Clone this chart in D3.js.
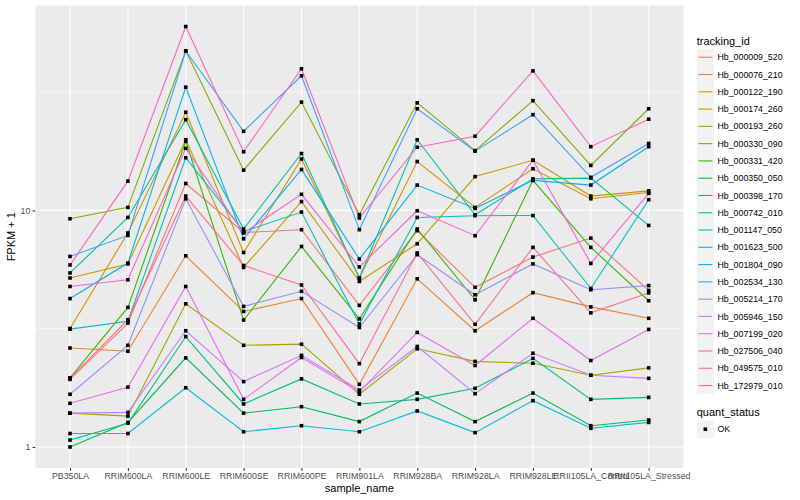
<!DOCTYPE html>
<html>
<head>
<meta charset="utf-8">
<script src="https://cdn.jsdelivr.net/npm/d3@7"></script>
<style>
  body { margin: 0; background: #fff; }
  svg { display: block; font-family: "Liberation Sans", Arial, sans-serif; }
</style>
</head>
<body>
<svg id="chart" width="800" height="500"></svg>
<script>
// x categories
const sampleNames = ["PB350LA", "RRIM600LA", "RRIM600LE", "RRIM600SE", "RRIM600PE", "RRIM901LA",
  "RRIM928BA", "RRIM928LA", "RRIM928LE", "RRII105LA_Control", "RRII105LA_Stressed"];

const trackingIds = ["Hb_000009_520", "Hb_000076_210", "Hb_000122_190", "Hb_000174_260", "Hb_000193_260",
  "Hb_000330_090", "Hb_000331_420", "Hb_000350_050", "Hb_000398_170", "Hb_000742_010",
  "Hb_001147_050", "Hb_001623_500", "Hb_001804_090", "Hb_002534_130", "Hb_005214_170",
  "Hb_005946_150", "Hb_007199_020", "Hb_027506_040", "Hb_049575_010", "Hb_172979_010"];

// ggplot default hue palette for 20 groups
const hueColors = ["#F8766D", "#EA8331", "#D89000", "#C09B00", "#A3A500", "#7CAE00", "#39B600", "#00BB4E",
  "#00BF7D", "#00C1A3", "#00BFC4", "#00BAE0", "#00B0F6", "#35A2FF", "#9590FF", "#C77CFF",
  "#E76BF3", "#FA62DB", "#FF62BC", "#FF6C91"];

// FPKM + 1, one value per sample
const Hb_000009_520 = [1.93, 3.34, 13.0, 8.07, 8.29, 3.97, 8.21, 4.73, 6.35, 7.64, 4.59];
const Hb_000076_210 = [2.62, 2.54, 6.43, 3.74, 4.24, 1.84, 5.14, 3.10, 4.49, 3.91, 3.50];
const Hb_000122_190 = [3.17, 8.03, 26.0, 6.64, 16.5, 5.18, 16.1, 10.3, 15.0, 11.2, 11.9];
const Hb_000174_260 = [5.18, 5.94, 19.9, 5.74, 10.9, 5.01, 7.23, 13.9, 16.3, 11.5, 12.1];
const Hb_000193_260 = [1.39, 1.35, 4.03, 2.69, 2.72, 1.67, 2.60, 2.30, 2.26, 2.01, 2.16];
const Hb_000330_090 = [9.22, 10.3, 47.3, 14.8, 28.7, 9.59, 28.5, 17.9, 29.1, 15.5, 26.9];
const Hb_000331_420 = [1.96, 3.89, 19.6, 3.44, 7.04, 3.48, 8.35, 4.19, 13.4, 6.98, 4.15];
const Hb_000350_050 = [1.00, 1.27, 2.38, 1.39, 1.48, 1.28, 1.69, 1.28, 1.69, 1.23, 1.30];
const Hb_000398_170 = [1.07, 1.26, 2.93, 1.52, 1.94, 1.52, 1.59, 1.77, 2.37, 1.59, 1.62];
const Hb_000742_010 = [5.44, 9.34, 24.2, 8.35, 17.4, 5.18, 19.9, 9.59, 13.6, 13.7, 8.64];
const Hb_001147_050 = [3.15, 3.40, 16.7, 8.15, 9.84, 3.31, 9.34, 9.50, 9.52, 4.68, 11.1];
const Hb_001623_500 = [1.14, 1.14, 1.78, 1.16, 1.23, 1.16, 1.42, 1.15, 1.57, 1.20, 1.27];
const Hb_001804_090 = [4.24, 5.99, 33.2, 7.59, 14.9, 6.23, 12.8, 10.2, 13.4, 12.8, 18.6];
const Hb_002534_130 = [6.39, 7.84, 47.2, 21.6, 37.1, 8.29, 26.9, 17.8, 25.4, 13.8, 19.2];
const Hb_005214_170 = [1.67, 2.69, 11.2, 3.93, 4.55, 3.20, 6.50, 4.40, 5.94, 4.62, 4.81];
const Hb_005946_150 = [1.39, 1.40, 3.10, 1.89, 2.44, 1.74, 2.66, 1.68, 2.49, 2.01, 1.95];
const Hb_007199_020 = [1.53, 1.79, 4.77, 1.59, 2.39, 1.71, 3.05, 2.21, 3.50, 2.32, 3.14];
const Hb_027506_040 = [4.77, 5.09, 18.3, 8.03, 11.7, 5.77, 9.97, 7.82, 16.3, 5.97, 11.8];
const Hb_049575_010 = [5.88, 13.3, 59.9, 17.7, 39.7, 9.29, 18.5, 20.6, 38.9, 18.6, 24.3];
const Hb_172979_010 = [1.95, 3.45, 11.5, 5.85, 4.84, 2.25, 6.61, 3.30, 6.98, 3.69, 4.48];

const seriesValues = [Hb_000009_520, Hb_000076_210, Hb_000122_190, Hb_000174_260, Hb_000193_260,
  Hb_000330_090, Hb_000331_420, Hb_000350_050, Hb_000398_170, Hb_000742_010,
  Hb_001147_050, Hb_001623_500, Hb_001804_090, Hb_002534_130, Hb_005214_170,
  Hb_005946_150, Hb_007199_020, Hb_027506_040, Hb_049575_010, Hb_172979_010];

const yBreaks = [1, 10];
const yMinorBreaks = [3.162, 31.62];
const quantStatus = ["OK"];

// panel box
const panel = { left: 35.3, right: 683.4, top: 5.5, bottom: 468 };

const svg = d3.select('#chart');

const x = d3.scalePoint()
  .domain(sampleNames)
  .range([panel.left, panel.right])
  .padding(0.6);

// log scale with ggplot's 5% expansion
const logExt = d3.extent(seriesValues.flat()).map(Math.log10);
const pad = (logExt[1] - logExt[0]) * 0.05;
const y = d3.scaleLog()
  .domain([Math.pow(10, logExt[0] - pad), Math.pow(10, logExt[1] + pad)])
  .range([panel.bottom, panel.top]);

const color = d3.scaleOrdinal().domain(trackingIds).range(hueColors);

// background + grid
svg.append('rect')
  .attr('x', panel.left).attr('y', panel.top)
  .attr('width', panel.right - panel.left).attr('height', panel.bottom - panel.top)
  .attr('fill', '#EBEBEB');

const grid = svg.append('g').attr('stroke', '#fff').attr('fill', 'none');
grid.selectAll('.minor').data(yMinorBreaks).enter().append('line')
  .attr('x1', panel.left).attr('x2', panel.right)
  .attr('y1', d => y(d)).attr('y2', d => y(d))
  .attr('stroke-width', 0.55);
grid.selectAll('.major').data(yBreaks).enter().append('line')
  .attr('x1', panel.left).attr('x2', panel.right)
  .attr('y1', d => y(d)).attr('y2', d => y(d))
  .attr('stroke-width', 1.1);
grid.selectAll('.vmajor').data(sampleNames).enter().append('line')
  .attr('x1', d => x(d)).attr('x2', d => x(d))
  .attr('y1', panel.top).attr('y2', panel.bottom)
  .attr('stroke-width', 1.1);

// lines, one per tracking id
const line = d3.line()
  .x((d, i) => x(sampleNames[i]))
  .y(d => y(d));

svg.append('g').selectAll('path')
  .data(seriesValues)
  .enter()
  .append('path')
  .attr('d', d => line(d))
  .attr('fill', 'none')
  .attr('stroke', (d, i) => color(trackingIds[i]))
  .attr('stroke-width', 1.1);

// points
const pts = [];
seriesValues.forEach(vals => vals.forEach((v, i) => pts.push({ s: sampleNames[i], v: v })));
svg.append('g').selectAll('rect')
  .data(pts)
  .enter()
  .append('rect')
  .attr('x', d => x(d.s) - 1.8)
  .attr('y', d => y(d.v) - 1.8)
  .attr('width', 3.6)
  .attr('height', 3.6)
  .attr('fill', '#000');

// axes
const xAxis = svg.append('g')
  .attr('transform', `translate(0,${panel.bottom})`)
  .call(d3.axisBottom(x).tickSize(2.75).tickPadding(2.2));
const yAxis = svg.append('g')
  .attr('transform', `translate(${panel.left},0)`)
  .call(d3.axisLeft(y).tickValues(yBreaks).tickFormat(d3.format('d')).tickSize(2.75).tickPadding(2.2));

[xAxis, yAxis].forEach(g => {
  g.select('.domain').remove();
  g.selectAll('.tick line').attr('stroke', '#333333').attr('stroke-width', 1.1);
  g.selectAll('.tick text')
    .attr('fill', '#4D4D4D')
    .style('font-size', '8.8px')
    .style('font-family', '"Liberation Sans", Arial, sans-serif');
});

// axis titles
svg.append('text')
  .attr('x', (panel.left + panel.right) / 2).attr('y', 492)
  .attr('text-anchor', 'middle')
  .style('font-size', '11px')
  .text('sample_name');

svg.append('text')
  .attr('transform', `translate(15,${(panel.top + panel.bottom) / 2}) rotate(-90)`)
  .attr('text-anchor', 'middle')
  .style('font-size', '11px')
  .text('FPKM + 1');

// legend: tracking_id
const legX = 696.7, keySize = 17.28, keyTop = 48.6;
const leg = svg.append('g');
leg.append('text')
  .attr('x', legX).attr('y', 44.5)
  .style('font-size', '11px')
  .text('tracking_id');

const rows = leg.selectAll('.row')
  .data(trackingIds)
  .enter()
  .append('g')
  .attr('transform', (d, i) => `translate(${legX},${keyTop + i * keySize})`);
rows.append('rect')
  .attr('width', keySize).attr('height', keySize)
  .attr('fill', '#F2F2F2');
rows.append('line')
  .attr('x1', 1.7).attr('x2', keySize - 1.7)
  .attr('y1', keySize / 2).attr('y2', keySize / 2)
  .attr('stroke', d => color(d))
  .attr('stroke-width', 1.1);
rows.append('text')
  .attr('x', keySize + 3.5).attr('y', keySize / 2 + 3.1)
  .style('font-size', '8.8px')
  .text(d => d);

// legend: quant_status
const qTop = 420.6;
leg.append('text')
  .attr('x', legX).attr('y', 416.3)
  .style('font-size', '11px')
  .text('quant_status');
const qRows = leg.selectAll('.qrow')
  .data(quantStatus)
  .enter()
  .append('g')
  .attr('transform', (d, i) => `translate(${legX},${qTop + i * keySize})`);
qRows.append('rect')
  .attr('width', keySize).attr('height', keySize)
  .attr('fill', '#F2F2F2');
qRows.append('rect')
  .attr('x', keySize / 2 - 1.8).attr('y', keySize / 2 - 1.8)
  .attr('width', 3.6).attr('height', 3.6)
  .attr('fill', '#000');
qRows.append('text')
  .attr('x', keySize + 3.5).attr('y', keySize / 2 + 3.1)
  .style('font-size', '8.8px')
  .text(d => d);
</script>
</body>
</html>
